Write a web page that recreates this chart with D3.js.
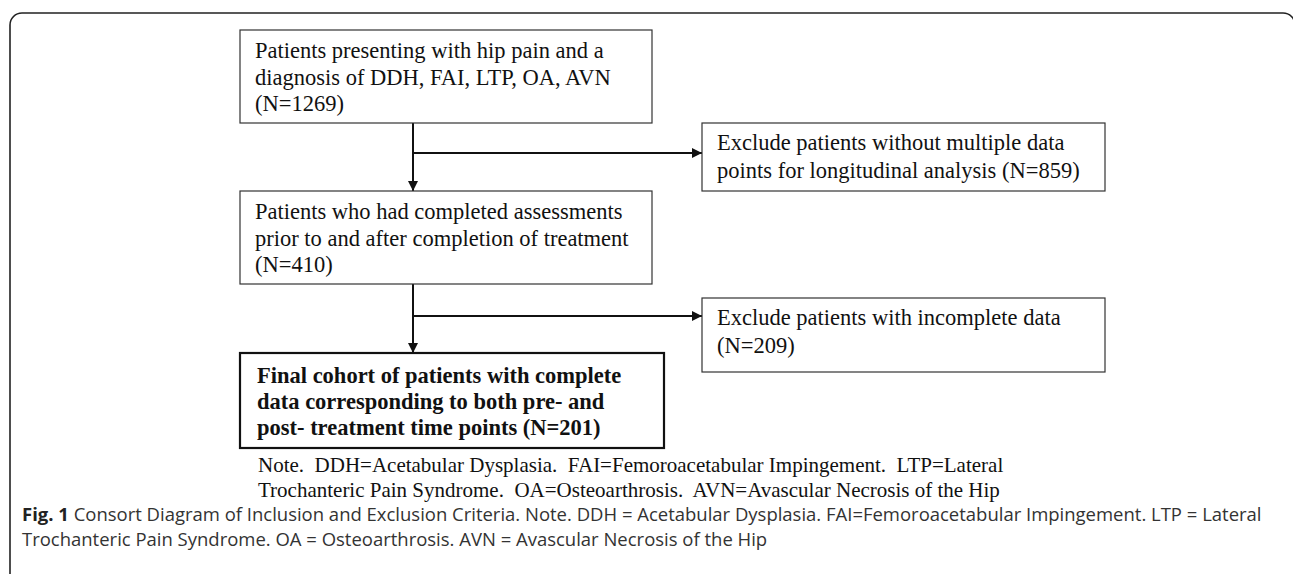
<!DOCTYPE html>
<html>
<head>
<meta charset="utf-8">
<script src="https://cdn.jsdelivr.net/npm/d3@7"></script>
<style>
  body { margin: 0; background: #fff; }
  svg { display: block; }
</style>
</head>
<body>
<svg id="chart"></svg>
<script>
// flow steps (main column)
const mainSteps = [
    ["Patients presenting with hip pain and a", "diagnosis of DDH, FAI, LTP, OA, AVN", "(N=1269)"],
    ["Patients who had completed assessments", "prior to and after completion of treatment", "(N=410)"]
];
// exclusions, one per step
const excludeSteps = [
    ["Exclude patients without multiple data", "points for longitudinal analysis (N=859)"],
    ["Exclude patients with incomplete data", "(N=209)"]
];
const finalStep = ["Final cohort of patients with complete", "data corresponding to both pre- and", "post- treatment time points (N=201)"];
const noteLines = [
    "Note.  DDH=Acetabular Dysplasia.  FAI=Femoroacetabular Impingement.  LTP=Lateral",
    "Trochanteric Pain Syndrome.  OA=Osteoarthrosis.  AVN=Avascular Necrosis of the Hip"
];
const captionLabel = "Fig. 1";
const captionLines = [
    " Consort Diagram of Inclusion and Exclusion Criteria. Note. DDH = Acetabular Dysplasia. FAI=Femoroacetabular Impingement. LTP = Lateral",
    "Trochanteric Pain Syndrome. OA = Osteoarthrosis. AVN = Avascular Necrosis of the Hip"
];

const W = 1293, H = 574;
const svg = d3.select('#chart').attr('width', W).attr('height', H);

const serif = "'Liberation Serif', 'Times New Roman', serif";
const sans = "'Open Sans', 'Noto Sans', sans-serif";

// outer frame (runs off the right and bottom edges)
svg.append('rect')
    .attr('x', 10).attr('y', 13)
    .attr('width', 1285).attr('height', 700)
    .attr('rx', 12)
    .attr('fill', 'none')
    .attr('stroke', '#222')
    .attr('stroke-width', 1.6);

svg.append('defs').append('marker')
    .attr('id', 'arrow')
    .attr('viewBox', '0 0 10 10')
    .attr('refX', 10).attr('refY', 5)
    .attr('markerWidth', 10).attr('markerHeight', 10)
    .attr('markerUnits', 'userSpaceOnUse')
    .attr('orient', 'auto')
    .append('path')
    .attr('d', 'M0,0L10,5L0,10Z')
    .attr('fill', '#111');

// layout
const colX = 240, colW = 412;
const exX = 702, exW = 403;
const mainY = [30, 191], mainH = 93;
const exY = [123, 298], exH = [68, 74];
const finalBox = { x: 240, y: 353, w: 424, h: 95 };
const spineX = 413;
const branchY = [153, 316];

function drawBox(g, lines, x, y, w, h, opts) {
    g.append('rect')
        .attr('x', x).attr('y', y).attr('width', w).attr('height', h)
        .attr('fill', '#fff')
        .attr('stroke', opts.stroke)
        .attr('stroke-width', opts.sw);
    g.append('g').selectAll('text')
        .data(lines)
        .join('text')
        .attr('x', x + opts.pad)
        .attr('y', (d, i) => y + opts.first + i * opts.lh)
        .attr('font-family', serif)
        .attr('font-size', opts.fs)
        .attr('font-weight', opts.bold ? 'bold' : 'normal')
        .attr('fill', '#111')
        .text(d => d);
}

const links = svg.append('g')
    .attr('stroke', '#111')
    .attr('stroke-width', 2)
    .attr('fill', 'none');

mainSteps.forEach((s, i) => {
    const top = mainY[i] + mainH;
    const next = i + 1 < mainSteps.length ? mainY[i + 1] : finalBox.y;
    links.append('line')
        .attr('x1', spineX).attr('y1', top)
        .attr('x2', spineX).attr('y2', next)
        .attr('marker-end', 'url(#arrow)');
    links.append('line')
        .attr('x1', spineX).attr('y1', branchY[i])
        .attr('x2', exX).attr('y2', branchY[i])
        .attr('marker-end', 'url(#arrow)');
});

const boxes = svg.append('g');
mainSteps.forEach((s, i) => {
    drawBox(boxes, s, colX, mainY[i], colW, mainH,
        { stroke: '#333', sw: 1.2, pad: 15, first: 28, lh: 26.5, fs: 22.5 });
});
excludeSteps.forEach((s, i) => {
    drawBox(boxes, s, exX, exY[i], exW, exH[i],
        { stroke: '#333', sw: 1.2, pad: 15, first: 27, lh: 28, fs: 22.5 });
});
drawBox(boxes, finalStep, finalBox.x, finalBox.y, finalBox.w, finalBox.h,
    { stroke: '#111', sw: 2.2, pad: 17, first: 30, lh: 26, fs: 22.5, bold: true });

// note under the diagram
svg.append('g').selectAll('text')
    .data(noteLines)
    .join('text')
    .attr('x', 258)
    .attr('y', (d, i) => 472 + i * 25)
    .attr('font-family', serif)
    .attr('font-size', 21)
    .attr('fill', '#111')
    .style('white-space', 'pre')
    .text(d => d);

// figure caption
const capX = 22;
const cap = svg.append('g')
    .attr('font-family', sans)
    .attr('font-size', 18.5)
    .attr('fill', '#333');

const first = cap.append('text').attr('x', capX).attr('y', 521);
first.append('tspan').attr('font-weight', 'bold').attr('fill', '#222').text(captionLabel);
first.append('tspan').style('white-space', 'pre').text(captionLines[0]);
cap.append('text').attr('x', capX).attr('y', 546).text(captionLines[1]);

// squeeze caption to the reference width (the original face is narrower)
const capW = first.node().getComputedTextLength();
const target = 1262 - capX;
if (capW > 0) {
    const k = target / capW;
    cap.attr('transform', `translate(${capX},0) scale(${k},1) translate(${-capX},0)`);
}
</script>
</body>
</html>
